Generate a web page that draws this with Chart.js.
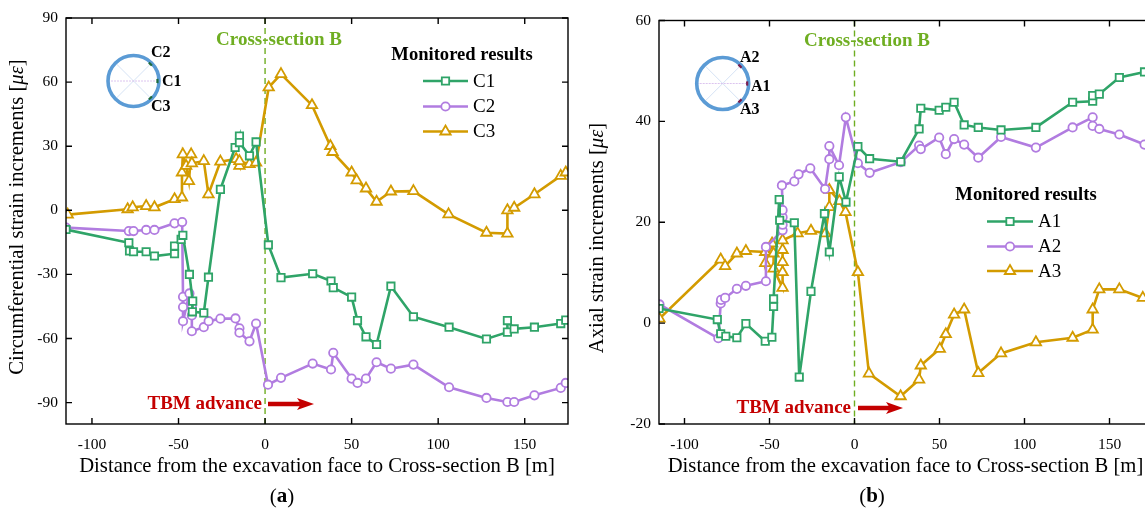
<!DOCTYPE html>
<html><head><meta charset="utf-8">
<script src="https://cdn.jsdelivr.net/npm/chart.js@4/dist/chart.umd.min.js"></script>
<style>
html,body{margin:0;padding:0;background:#fff;overflow:hidden;}
body{width:1145px;height:514px;position:relative;}
#ca{position:absolute;left:0;top:0;}
#cb{position:absolute;left:580px;top:0;}
</style></head><body>
<canvas id="ca" width="580" height="514"></canvas>
<canvas id="cb" width="584" height="514"></canvas>
<script>
// ---------- tick labels ----------
const xTicks = [-100, -50, 0, 50, 100, 150];
const yTicksA = [-90, -60, -30, 0, 30, 60, 90];
const yTicksB = [-20, 0, 20, 40, 60];

// ---------- panel (a): circumferential strain ----------
const distC1 = [-115,-78.7,-78.3,-76,-68.7,-63.9,-52.3,-52.3,-48.5,-47.5,-43.7,-41.8,-42,-35.4,-32.7,-25.8,-17.3,-14.8,-14.8,-9,-5.2,1.9,9.2,27.5,38.1,39.4,50,53.4,58.3,64.4,72.7,85.7,106.3,127.9,140,140,143.9,155.6,170.8,173.7];
const strainC1 = [-9,-15.2,-19,-19.4,-19.4,-21.4,-20.3,-16.7,-13.6,-11.7,-30,-42.5,-47.5,-48,-31.3,9.8,29.4,34.8,31.7,25.5,32,-16.2,-31.5,-29.7,-33.1,-36.2,-40.6,-51.6,-59.2,-62.8,-35.5,-49.8,-54.7,-60.2,-57,-51.6,-55.5,-54.7,-53,-51.4];
const distC2 = [-115,-78.7,-76,-68.7,-63.9,-52.3,-47.9,-47.4,-47.4,-47.4,-43.7,-42.3,-42.3,-42.3,-35.4,-32.6,-25.8,-17.1,-14.8,-14.8,-9,-5.2,1.7,9.2,27.5,38.1,39.4,50,53.4,58.3,64.4,72.7,85.7,106.3,127.9,140,143.9,155.6,170.8,173.7];
const strainC2 = [-8.1,-9.7,-9.7,-9.2,-9.2,-6.1,-5.5,-40.5,-45.3,-51.9,-38.9,-45.1,-49.2,-56.6,-54.7,-51.9,-50.7,-50.6,-55.2,-57.3,-61.3,-53,-81.6,-78.4,-71.7,-74.5,-66.7,-78.75,-80.8,-78.75,-71.1,-74.1,-72.2,-82.8,-87.8,-89.7,-89.7,-86.6,-83.1,-80.8];
const distC3 = [-114,-79.4,-76.5,-68.7,-63.9,-52.3,-48,-48,-47.5,-45.6,-44,-42.7,-42.3,-35.4,-32.7,-25.8,-16.7,-14.8,-14.8,-9,-5.2,2.1,9.2,27.1,37.7,39,50,52.9,58.3,64.4,72.7,85.7,106,127.9,140,140,143.9,155.6,170.8,173.7];
const strainC3 = [-2,0.5,1.4,2,1.4,5.2,6,17.7,26.2,20.8,13.7,26.2,22,23,7.5,22.8,24,20.8,23,21.6,22.3,57.5,63.75,49.2,30.1,27.3,17.7,14,10.2,4,8.8,9,-1.9,-10.5,-10.9,0,1.2,7.5,16.1,17.7];

// ---------- panel (b): axial strain ----------
const distA1 = [-115,-80.7,-78.7,-75.7,-69.2,-63.9,-52.5,-48.6,-47.6,-47.6,-44.3,-44,-35.4,-32.5,-25.6,-17.7,-14.8,-9,-5,2,8.9,27.2,38,39,49.8,53.7,58.6,64.5,72.8,86.2,106.7,128.3,140.1,140.1,144,155.8,170.6];
const strainA1 = [2.9,0.7,-2.1,-2.6,-2.9,-0.1,-3.6,-2.8,3.3,4.8,24.5,20.4,19.9,-10.7,6.3,21.7,14.1,29,24,35,32.6,32,38.5,42.6,42.2,42.8,43.8,39.3,38.8,38.3,38.8,43.8,44,45.1,45.4,48.7,49.8];
const distA2 = [-114.7,-80.1,-78.7,-78.5,-76.1,-69.2,-63.9,-52.1,-52.1,-42.3,-42.3,-42.3,-42.3,-42.7,-35.4,-32.9,-26,-17.3,-14.8,-14.8,-9.1,-5.1,2,8.9,27.2,38,39,49.8,53.7,58.6,64.5,72.8,86.2,106.7,128.3,140.1,140.1,144,155.8,170.6];
const strainA2 = [3.7,-3,3.9,4.6,5,6.8,7.4,8.3,15.1,18.4,19.5,21,22.4,27.3,28.1,29.5,30.7,26.6,32.5,35.1,31.3,40.8,31.7,29.8,31.9,35.2,34.5,36.8,33.5,36.5,35.4,32.8,36.9,34.8,38.8,40.8,39.1,38.5,37.4,35.4];
const distA3 = [-114.7,-78.7,-76.1,-69.2,-63.9,-52.5,-52.5,-48.5,-47.6,-47.6,-42.3,-42.3,-42.3,-42.3,-42.3,-33.5,-25.6,-17.1,-14.8,-14.8,-8.9,-5.3,2,8.5,27.1,38,39,50.2,53.7,58.6,64.5,72.8,86.2,106.7,128.3,140.1,140.1,144,155.8,169.6];
const strainA3 = [0.9,12.6,11.3,13.8,14.3,14.1,11.9,15.8,13.8,10.8,7,10.1,12.1,14.5,16.4,17.8,18.3,17.8,23,26.4,24.2,22,10.1,-10,-14.5,-11.2,-8.4,-5.1,-2.2,1.7,2.7,-9.9,-6,-3.8,-2.9,-1.3,2.7,6.7,6.7,5];

// ---------- styles ----------
const SERIF = "'Liberation Serif','Times New Roman',serif";
const GREEN = '#2fa468', PURPLE = '#b17ce0', GOLD = '#d39b00', RED = '#c40000', XGREEN = '#6fae22', BLUE = '#5b9bd5';
const MARK = {rect:{r:5.2}, circle:{r:4.2}, triangle:{r:6}};
const TITLE_SIZE = 20.7;

function pts(xs, ys) { return xs.map((x, i) => ({x: x, y: ys[i]})); }
function series(label, xs, ys, color, style) {
  return {label, data: pts(xs, ys), borderColor: color, backgroundColor: '#fff', borderWidth: 2.6,
    pointStyle: style, pointRadius: MARK[style].r, pointBorderWidth: 1.8,
    pointBackgroundColor: '#fff', pointBorderColor: color, tension: 0};
}

function marker(ctx, style, x, y, r, color) {
  ctx.save();
  ctx.fillStyle = '#fff'; ctx.strokeStyle = color; ctx.lineWidth = 1.8;
  ctx.beginPath();
  if (style === 'rect') { const s = Math.SQRT1_2 * r; ctx.rect(x - s, y - s, 2 * s, 2 * s); }
  else if (style === 'circle') { ctx.arc(x, y, r, 0, Math.PI * 2); }
  else { let a = 0; ctx.moveTo(x + Math.sin(a) * r, y - Math.cos(a) * r);
    for (let k = 0; k < 2; k++) { a += 2 * Math.PI / 3; ctx.lineTo(x + Math.sin(a) * r, y - Math.cos(a) * r); }
    ctx.closePath(); }
  ctx.fill(); ctx.stroke(); ctx.restore();
}

const deco = {
  id: 'deco',
  beforeDatasetsDraw(chart, args, o) {
    const {ctx, chartArea: a, scales: {x}} = chart;
    const x0 = x.getPixelForValue(0);
    ctx.save();
    ctx.strokeStyle = XGREEN; ctx.lineWidth = 1.4; ctx.setLineDash([6, 4]);
    ctx.beginPath(); ctx.moveTo(x0, a.top); ctx.lineTo(x0, a.bottom); ctx.stroke();
    ctx.restore();
  },
  afterDatasetsDraw(chart, args, o) {
    const {ctx, chartArea: a, scales: {x, y}} = chart;
    ctx.save();
    // frame + inward ticks
    ctx.strokeStyle = '#000'; ctx.lineWidth = 1.4; ctx.setLineDash([]);
    ctx.strokeRect(a.left, a.top, a.right - a.left, a.bottom - a.top);
    const TL = 6;
    ctx.beginPath();
    x.ticks.forEach(t => { const p = x.getPixelForValue(t.value);
      ctx.moveTo(p, a.bottom); ctx.lineTo(p, a.bottom - TL); ctx.moveTo(p, a.top); ctx.lineTo(p, a.top + TL); });
    y.ticks.forEach(t => { const p = y.getPixelForValue(t.value);
      ctx.moveTo(a.left, p); ctx.lineTo(a.left + TL, p); ctx.moveTo(a.right, p); ctx.lineTo(a.right - TL, p); });
    ctx.stroke();

    // cross-section label
    ctx.fillStyle = XGREEN; ctx.font = 'bold 19px ' + SERIF; ctx.textAlign = 'center'; ctx.textBaseline = 'middle';
    ctx.fillText('Cross-section B', o.cross[0], o.cross[1]);

    // legend
    const L = o.legend;
    ctx.fillStyle = '#000'; ctx.font = 'bold 18.6px ' + SERIF; ctx.textAlign = 'center';
    ctx.fillText('Monitored results', L.tx, L.ty);
    ctx.font = '19px ' + SERIF; ctx.textAlign = 'left';
    chart.data.datasets.forEach((d, i) => {
      const yy = L.ys[i];
      ctx.strokeStyle = d.borderColor; ctx.lineWidth = 2.6;
      ctx.beginPath(); ctx.moveTo(L.x1, yy); ctx.lineTo(L.x2, yy); ctx.stroke();
      marker(ctx, d.pointStyle, (L.x1 + L.x2) / 2, yy, d.pointRadius, d.borderColor);
      ctx.fillStyle = '#000'; ctx.fillText(d.label, L.lx, yy + 1);
    });

    // TBM advance
    const T = o.tbm;
    ctx.fillStyle = RED; ctx.font = 'bold 19px ' + SERIF; ctx.textAlign = 'right'; ctx.textBaseline = 'middle';
    ctx.fillText('TBM advance', T.right, T.y);
    ctx.strokeStyle = RED; ctx.lineWidth = 4.5;
    ctx.beginPath(); ctx.moveTo(T.a1, T.y); ctx.lineTo(T.a2 - 12, T.y); ctx.stroke();
    ctx.beginPath(); ctx.moveTo(T.a2, T.y); ctx.lineTo(T.a2 - 17, T.y - 6); ctx.lineTo(T.a2 - 13, T.y); ctx.lineTo(T.a2 - 17, T.y + 6); ctx.closePath(); ctx.fill();

    // tunnel section icon
    const I = o.icon;
    ctx.lineWidth = 1;
    ctx.strokeStyle = '#d5e2f4';
    const d45 = I.r * Math.SQRT1_2;
    ctx.beginPath(); ctx.moveTo(I.cx - d45, I.cy - d45); ctx.lineTo(I.cx + d45, I.cy + d45);
    ctx.moveTo(I.cx - d45, I.cy + d45); ctx.lineTo(I.cx + d45, I.cy - d45); ctx.stroke();
    ctx.strokeStyle = '#dcc4ef'; ctx.setLineDash([2, 1]);
    ctx.beginPath(); ctx.moveTo(I.cx - I.r, I.cy); ctx.lineTo(I.cx + I.r, I.cy); ctx.stroke();
    ctx.setLineDash([]);
    ctx.strokeStyle = BLUE; ctx.lineWidth = 3.6;
    ctx.beginPath(); ctx.arc(I.cx, I.cy, I.r, 0, Math.PI * 2); ctx.stroke();
    ctx.strokeStyle = I.markColor; ctx.lineWidth = 2.2;
    [-45, 0, 45].forEach(deg => { const t = deg * Math.PI / 180;
      ctx.beginPath(); ctx.arc(I.cx, I.cy, I.r - 1.5, t - 0.09, t + 0.09); ctx.stroke(); });
    ctx.fillStyle = '#000'; ctx.font = 'bold 16px ' + SERIF; ctx.textAlign = 'left'; ctx.textBaseline = 'middle';
    I.labels.forEach(l => ctx.fillText(l[0], l[1], l[2]));

    // y-axis title (with italic unit)
    const Y = o.ytitle;
    ctx.translate(Y.x, Y.y); ctx.rotate(-Math.PI / 2);
    const fR = TITLE_SIZE + 'px ' + SERIF, fI = 'italic ' + TITLE_SIZE + 'px ' + SERIF;
    ctx.font = fR; const w1 = ctx.measureText(Y.text + ' [').width, w3 = ctx.measureText(']').width;
    ctx.font = fI; const w2 = ctx.measureText('με').width;
    let sx = -(w1 + w2 + w3) / 2;
    ctx.fillStyle = '#000'; ctx.textAlign = 'left';
    ctx.font = fR; ctx.fillText(Y.text + ' [', sx, 0); sx += w1;
    ctx.font = fI; ctx.fillText('με', sx, 0); sx += w2;
    ctx.font = fR; ctx.fillText(']', sx, 0);
    ctx.setTransform(1, 0, 0, 1, 0, 0);

    // panel label
    const P = o.panel;
    ctx.font = '21px ' + SERIF; const pw = ctx.measureText('(').width;
    ctx.font = 'bold 21px ' + SERIF; const lw = ctx.measureText(P.t).width;
    ctx.font = '21px ' + SERIF; const cw = ctx.measureText(')').width;
    let px = P.x - (pw + lw + cw) / 2;
    ctx.textAlign = 'left'; ctx.fillStyle = '#000';
    ctx.fillText('(', px, P.y); px += pw;
    ctx.font = 'bold 21px ' + SERIF; ctx.fillText(P.t, px, P.y); px += lw;
    ctx.font = '21px ' + SERIF; ctx.fillText(')', px, P.y);
    ctx.restore();
  }
};

function makeChart(id, datasets, yMin, yMax, yTicks, yWidth, padTop, decoOpts) {
  return new Chart(document.getElementById(id), {
    type: 'line',
    data: {datasets},
    options: {
      responsive: false, animation: false, devicePixelRatio: 1,
      layout: {padding: {left: 0, right: 12, top: padTop, bottom: 0}},
      plugins: {legend: {display: false}, tooltip: {enabled: false}, deco: decoOpts},
      scales: {
        x: {type: 'linear', min: -115, max: 175,
          afterBuildTicks: s => { s.ticks = xTicks.map(v => ({value: v})); },
          afterFit: s => { s.height = 90; },
          grid: {display: false, drawTicks: false}, border: {display: false},
          ticks: {padding: 12, color: '#000', font: {family: SERIF, size: 15.5}, maxRotation: 0},
          title: {display: true, text: 'Distance from the excavation face to Cross-section B [m]', color: '#000',
            font: {family: SERIF, size: TITLE_SIZE}, padding: {top: 0, bottom: 35.5}}},
        y: {type: 'linear', min: yMin, max: yMax,
          afterBuildTicks: s => { s.ticks = yTicks.map(v => ({value: v})); },
          afterFit: s => { s.width = yWidth; },
          grid: {display: false, drawTicks: false}, border: {display: false},
          ticks: {padding: 8, color: '#000', font: {family: SERIF, size: 15.5}}}
      }
    },
    plugins: [deco]
  });
}

makeChart('ca', [
  series('C1', distC1, strainC1, GREEN, 'rect'),
  series('C2', distC2, strainC2, PURPLE, 'circle'),
  series('C3', distC3, strainC3, GOLD, 'triangle')
], -100, 90, yTicksA, 66, 18, {
  cross: [279, 40],
  legend: {tx: 462, ty: 55, x1: 423, x2: 468, lx: 473, ys: [81, 106.5, 131.5]},
  tbm: {right: 262, y: 404, a1: 268, a2: 314},
  icon: {cx: 133.5, cy: 81, r: 25.5, markColor: '#1e6b3c',
    labels: [['C2', 151, 53], ['C1', 162, 81.5], ['C3', 151, 107]]},
  ytitle: {text: 'Circumferential strain increments', x: 18, y: 217},
  panel: {t: 'a', x: 282, y: 497}
});

makeChart('cb', [
  series('A1', distA1, strainA1, GREEN, 'rect'),
  series('A2', distA2, strainA2, PURPLE, 'circle'),
  series('A3', distA3, strainA3, GOLD, 'triangle')
], -20, 60, yTicksB, 79, 20.5, {
  cross: [287, 41],
  legend: {tx: 446, ty: 195, x1: 407, x2: 453, lx: 458, ys: [221.5, 246.5, 271]},
  tbm: {right: 271, y: 408, a1: 278, a2: 323},
  icon: {cx: 142.7, cy: 83.5, r: 26, markColor: '#7a1f4f',
    labels: [['A2', 160, 57.5], ['A1', 171, 86.5], ['A3', 160, 110]]},
  ytitle: {text: 'Axial strain increments', x: 18, y: 238},
  panel: {t: 'b', x: 292, y: 497}
});
</script>
</body></html>
